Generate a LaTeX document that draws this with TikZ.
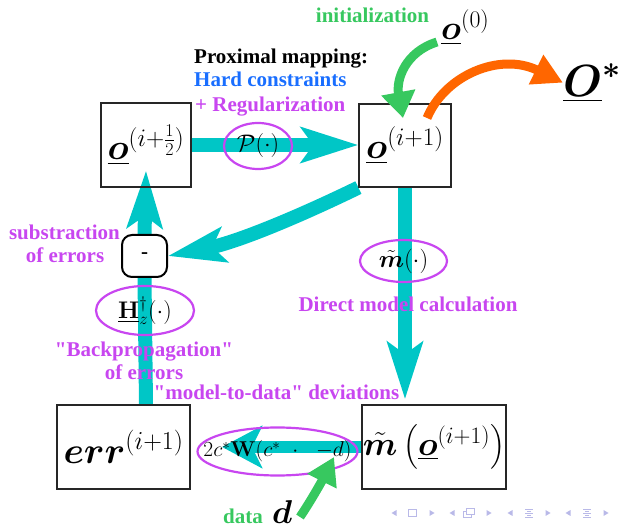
\documentclass[tikz,border=0pt]{standalone}
\usepackage{fix-cm}
\usepackage{amsmath}
\usepackage{bm}
\usepackage[no-math]{fontspec}
\setmainfont{Liberation Serif}[Ligatures=TeXOff]
\usetikzlibrary{arrows.meta,shapes.geometric}
\pgfdeclarelayer{bg}
\pgfsetlayers{bg,main}
\definecolor{cy}{RGB}{0,198,198}
\definecolor{vio}{RGB}{200,70,240}
\definecolor{grn}{RGB}{55,200,95}
\definecolor{blu}{RGB}{25,110,255}
\definecolor{org}{RGB}{255,102,0}
\definecolor{nav}{RGB}{185,185,232}
\tikzset{
  mbox/.style={draw=black!85, line width=1.2pt, inner sep=0pt, font=\fontsize{36}{40}\selectfont},
  lbl/.style={font=\bfseries\fontsize{21}{23}\selectfont, inner sep=0pt},
  ell/.style={ellipse, draw=vio, line width=2.2pt, inner sep=0pt},
  etext/.style={inner sep=0pt, font=\fontsize{21.5}{24}\selectfont},
  cyline/.style={draw=cy, line width=14pt},
  cyarrow/.style={draw=cy, line width=14pt, -{Stealth[length=57pt,width=35pt,inset=12pt]}},
  cyarrowb/.style={draw=cy, line width=12pt, -{Stealth[length=40pt,width=42pt,inset=10pt]}},
  garrow/.style={draw=grn, line width=9pt, -{Triangle[length=26pt,width=33pt]}},
  oarrow/.style={draw=org, line width=9pt, -{Triangle[length=30pt,width=31pt]}},
}
\begin{document}
\begin{tikzpicture}[x=1pt,y=-1pt]
\useasboundingbox (0,0) rectangle (630,529);

% boxes
\node[mbox, minimum width=90pt, minimum height=84pt] (b1) at (146,145) {$\underline{\bm{o}}^{(i+\frac12)}$};
\node[mbox, minimum width=92pt, minimum height=83pt] (b2) at (405,145.5) {$\underline{\bm{o}}^{(i+1)}$};
\node[mbox, minimum width=133pt, minimum height=84pt, font=\fontsize{37}{40}\selectfont] (err) at (123.5,447) {$\bm{err}^{(i+1)}$};
\node[mbox, minimum width=144pt, minimum height=84pt, font=\fontsize{33.5}{36}\selectfont] (mb) at (434,447) {$\tilde{\bm{m}}\left(\underline{\bm{o}}^{(i+1)}\right)$};

% free ends
\coordinate (dtip) at (222,447);
\coordinate (gs) at (437,42);
\coordinate (gt) at (403,118);
\coordinate (os) at (427,118);
\coordinate (ds) at (300,517);
\coordinate (dt) at (334,457);

% minus node
\node[draw=black, line width=2pt, rounded corners=10pt, fill=white, minimum width=45pt, minimum height=42pt, inner sep=0pt, font=\bfseries\fontsize{21}{23}\selectfont] (mn) at (144.5,256) {-};

% cyan arrows
\begin{pgfonlayer}{bg}
\draw[cyarrow] (b1.east) -- (b1.east -| b2.west);
\draw[cyarrow] (b2.south) -- ([yshift=5pt]b2.south |- mb.north);
\draw[cyline] (err.north -| b1.south) -- (mn.south);
\draw[cyarrow] (mn.north) -- ([yshift=17pt]b1.south);
\draw[cyarrow] (b2.south west) .. controls (300,216) and (238,242) .. (mn.east);
\draw[cyarrowb] (mb.west) -- (dtip);
\end{pgfonlayer}

% ellipses
\node[ell, minimum width=68pt, minimum height=46pt] (P) at (258,146) {};
\node[etext, font=\fontsize{24}{26}\selectfont] (Pt) at (P) {$\mathcal{P}(\cdot)$};
\node[ell, minimum width=87pt, minimum height=42pt] (M) at (403.5,261) {};
\node[etext, font=\fontsize{24.5}{27}\selectfont] (Mt) at (M) {$\tilde{\bm{m}}(\cdot)$};
\node[ell, minimum width=98pt, minimum height=49pt] (H) at (145,310.5) {};
\node[etext, font=\fontsize{24}{26}\selectfont] (Ht) at (H) {$\underline{\mathbf{H}}_z^{\dagger}(\cdot)$};
\node[ell, minimum width=160pt, minimum height=48pt] (D) at (277.5,451.5) {};
\node[etext] (Dt) at (D) {$2c^*\mathbf{W}(c^{*}\;\;\mathord{\cdot}\;\;\;{-d})$};

% other math labels
\node[inner sep=0pt, anchor=base west, font=\fontsize{34}{36}\selectfont] (o0) at (441,40) {$\underline{\bm{o}}^{(0)}$};
\node[inner sep=0pt, anchor=base west, font=\fontsize{45}{50}\selectfont] (ostar) at (563,97) {$\underline{\bm{O}}^{\bm{*}}$};
\node[inner sep=0pt, anchor=base west, font=\fontsize{33}{36}\selectfont] (dd) at (272,524) {$\bm{d}$};

% green / orange arrows
\draw[garrow] (gs) .. controls (405,52) and (396,80) .. (gt);
\draw[oarrow] (os) .. controls (445,75) and (500,52) .. (ostar.west);
\draw[garrow, -{Triangle[length=27pt,width=31pt]}] (ds) .. controls (314,496) and (324,477) .. (dt);

% text labels
\node[lbl, text=grn, anchor=base] (init) at (372.5,23) {initialization};
\node[lbl, anchor=base west] (prox) at (194,64) {Proximal mapping:};
\node[lbl, text=blu, anchor=base west] (hard) at (194,87) {Hard constraints};
\node[lbl, text=vio, anchor=base west] (reg) at (195,112) {+ Regularization};
\node[lbl, text=vio, anchor=base] (sub1) at (64.5,240) {substraction};
\node[lbl, text=vio, anchor=base] (sub2) at (65,263) {of errors};
\node[lbl, text=vio, anchor=base] (dir) at (408,312) {Direct model calculation};
\node[lbl, text=vio, anchor=base] (bp1) at (144,357) {"Backpropagation"};
\node[lbl, text=vio, anchor=base] (bp2) at (144,380) {of errors};
\node[lbl, text=vio, anchor=base] (dev) at (276.5,400) {"model-to-data" deviations};
\node[lbl, text=grn, anchor=base east] (data) at (263,524) {data};

% navigation symbols
\begin{scope}[fill=nav, draw=nav, line width=0.8pt]
\foreach \x in {394,452,510,568} \fill (\x-2.5,513) -- (\x+2.5,510) -- (\x+2.5,516) -- cycle;
\foreach \x in {432,489,548,606} \fill (\x+2.5,513) -- (\x-2.5,510) -- (\x-2.5,516) -- cycle;
\draw (408,509.5) rectangle (416,516.5);
\draw (463,511) rectangle (471,517);
\draw[fill=white] (466,508.5) rectangle (474,514.5);
\draw (525,509) -- (533,509) (525,513) -- (533,513) (525,517) -- (533,517);
\draw (527,511) -- (531,511) (527,515) -- (531,515);
\draw (583,509) -- (591,509) (583,513) -- (591,513) (583,517) -- (591,517);
\draw (585,511) -- (589,511) (585,515) -- (589,515);
\end{scope}
\end{tikzpicture}
\end{document}
